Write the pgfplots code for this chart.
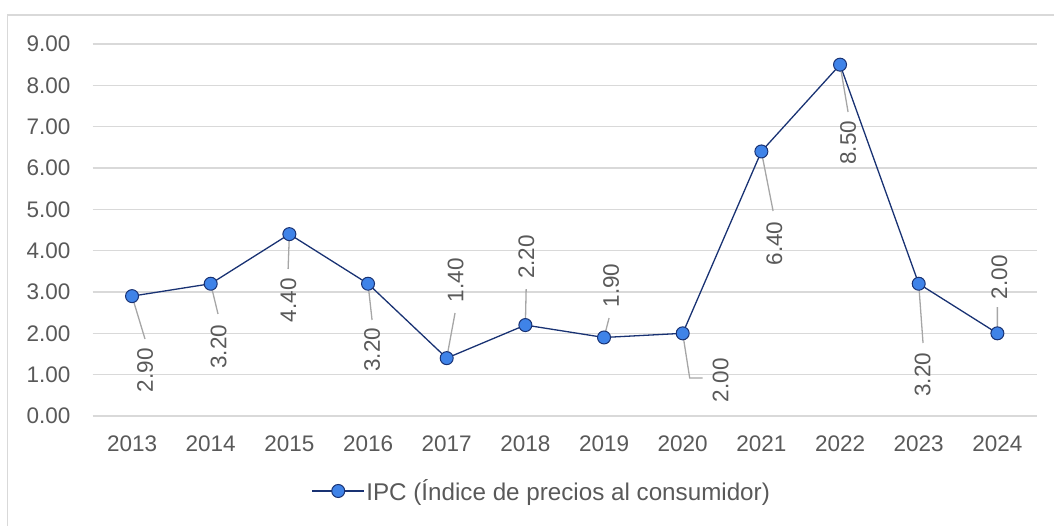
\documentclass[border=0pt]{standalone}
\usepackage{fontspec}
\setmainfont{Liberation Sans}
\usepackage{pgfplots}
\usepackage{pgfplotstable}
\pgfplotsset{compat=1.18}
\definecolor{labelgray}{HTML}{595959}
\definecolor{gridgray}{HTML}{D9D9D9}
\definecolor{navy}{RGB}{25,50,115}
\definecolor{mfill}{HTML}{3F83E8}
\definecolor{leadgray}{HTML}{A6A6A6}
\newcommand\f{\fontsize{22.5pt}{27pt}\selectfont}
\newcommand\fl{\fontsize{24.2pt}{29pt}\selectfont}

\pgfplotstableread{
x y dx dy
0 2.90 13 -74
1 3.20 8 -63
2 4.40 -1 -66
3 3.20 4 -66
4 1.40 9 78
5 2.20 1 68
6 1.90 7 52
7 2.00 38 -47
8 6.40 13 -92
9 8.50 8 -78
10 3.20 4 -91
11 2.00 2 56
}\ipc

\pgfplotstableread{
x y
0 2.90
0.165 1.863
nan nan
1 3.20
1.093 2.468
nan nan
2 4.40
1.984 3.557
nan nan
3 3.20
3.051 2.323
nan nan
4 1.40
4.106 2.492
nan nan
5 2.20
5.01 3.07
nan nan
6 1.90
6.064 2.371
nan nan
7 2.00
7.089 0.919
7.254 0.919
nan nan
8 6.40
8.149 4.96
nan nan
9 8.50
9.102 7.355
nan nan
10 3.20
10.055 1.766
nan nan
11 2.00
11 2.637
}\leaders

\begin{document}
\begin{tikzpicture}
\useasboundingbox (0pt,0pt) rectangle (1054pt,525pt);
\draw[gridgray, line width=1.2pt] (7.5pt,-5pt) |- (1060pt,510pt);
\begin{axis}[
  at={(92.7pt,109pt)}, anchor=south west,
  scale only axis, width=944pt, height=372pt,
  xmin=-0.5, xmax=11.5, ymin=0, ymax=9,
  xtick={0,...,11},
  xticklabels={2013,2014,2015,2016,2017,2018,2019,2020,2021,2022,2023,2024},
  ytick={0,...,9},
  yticklabel={\pgfmathprintnumber[fixed,fixed zerofill,precision=2]{\tick}},
  /pgf/number format/assume math mode=true,
  ymajorgrids, major grid style={gridgray, line width=1.5pt},
  axis line style={draw=none}, tick style={draw=none},
  ticklabel style={font=\f, text=labelgray, inner sep=0pt},
  yticklabel style={anchor=east, xshift=-22pt},
  xticklabel style={anchor=north, yshift=-20pt},
  clip=false,
  legend style={at={(0.4754,-0.2016)}, anchor=center, draw=none, fill=none,
    font=\fl, text=labelgray, nodes={inner sep=1.5pt}},
  legend image code/.code={\draw[#1,mark repeat=2,mark phase=2] plot coordinates {(0pt,0pt)(26pt,0pt)(52pt,0pt)};},
]
\addplot[navy, line width=1.3pt, mark=*, mark size=6.5pt,
  mark options={fill=mfill, draw=navy, line width=1pt}]
  table[x=x,y=y] {\ipc};
\addlegendentry{IPC (Índice de precios al consumidor)}
\addplot[leadgray, line width=1.3pt, unbounded coords=jump, forget plot]
  table[x=x,y=y] {\leaders};
\addplot[draw=none, mark=none, forget plot,
  visualization depends on={\thisrow{dx} \as \dx},
  visualization depends on={\thisrow{dy} \as \dy},
  nodes near coords={\pgfmathprintnumber[fixed,fixed zerofill,precision=2,assume math mode=true]{\pgfplotspointmeta}},
  every node near coord/.style={xshift=\dx pt, yshift=\dy pt, rotate=90, anchor=center,
    font=\f, text=labelgray, inner sep=0pt}]
  table[x=x,y=y] {\ipc};
\end{axis}
\end{tikzpicture}
\end{document}
